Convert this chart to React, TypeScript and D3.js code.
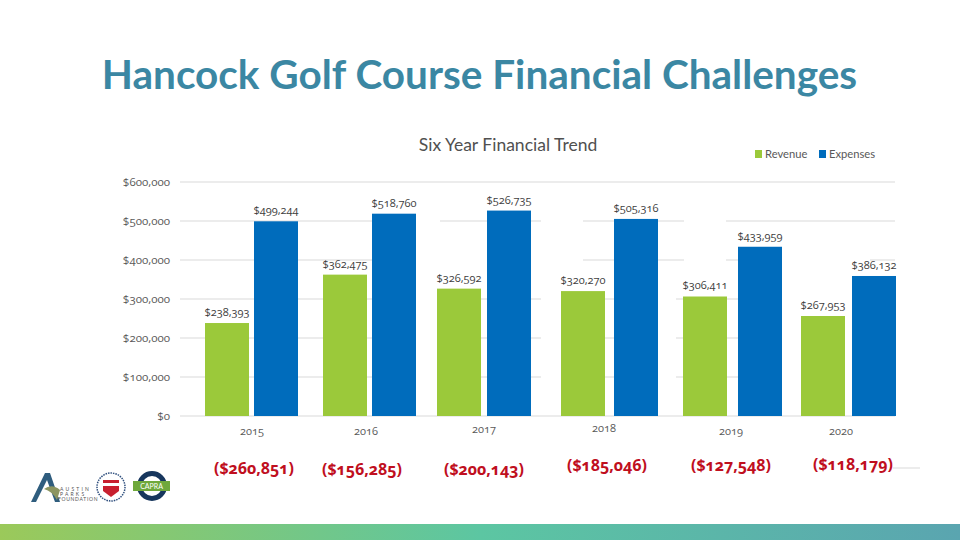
/**
 * Hancock Golf Course slide: revenue vs expenses, six years, net below each group.
 */
import { useEffect, useRef } from "react";
import * as d3 from "d3";

const years = ["2015", "2016", "2017", "2018", "2019", "2020"];
const revenue = [238393, 362475, 326592, 320270, 306411, 267953];
const expenses = [499244, 518760, 526735, 505316, 433959, 386132];
const net = [-260851, -156285, -200143, -185046, -127548, -118179];
const revenueDrawn = [238393, 362475, 326592, 320270, 306411, 256400];
const expensesDrawn = [499244, 518760, 526735, 505316, 433959, 359000];
const yTicks = [0, 100000, 200000, 300000, 400000, 500000, 600000];

const GREEN = "#9BC93A";
const BLUE = "#006CBC";
const FONT = "Lato, 'Open Sans', sans-serif";
const NUM_FONT = "'Open Sans', Lato, sans-serif";
const WIDTH = 960;
const HEIGHT = 540;

export default function App() {
  const svgRef = useRef<SVGSVGElement>(null);

  useEffect(() => {
    if (!svgRef.current) return;
    const svg = d3.select(svgRef.current);
    svg.selectAll("*").remove();

    const y = d3.scaleLinear().domain([0, 600000]).range([416, 182]);
    // groups were nudged by hand on the slide, so the bands are not evenly spaced
    const xRev = d3.scaleOrdinal<string, number>().domain(years).range([205, 323, 437, 561, 683, 801]);
    const xExp = d3.scaleOrdinal<string, number>().domain(years).range([254, 372, 487, 614, 738, 852]);
    const xYear = d3.scaleOrdinal<string, number>().domain(years).range([252, 366, 484, 604, 731, 841]);
    const yYear = d3.scaleOrdinal<string, number>().domain(years).range([435, 435, 433, 432, 435, 435]);
    const xNet = d3.scaleOrdinal<string, number>().domain(years).range([254, 362, 484, 607, 731, 853]);
    const yNet = d3.scaleOrdinal<string, number>().domain(years).range([474, 475, 475, 471, 471, 470]);
    const barW = 44;
    const money = d3.format("$,");
    const netFmt = d3.format("($,");

    const defs = svg.append("defs");
    const grad = defs.append("linearGradient").attr("id", "band");
    grad.append("stop").attr("offset", "0%").attr("stop-color", "#9BC95A");
    grad.append("stop").attr("offset", "50%").attr("stop-color", "#5CC6A2");
    grad.append("stop").attr("offset", "100%").attr("stop-color", "#5AA5B0");

    svg.append("rect").attr("width", WIDTH).attr("height", HEIGHT).attr("fill", "#fff");
    svg.append("rect").attr("y", 524).attr("width", WIDTH).attr("height", 16).attr("fill", "url(#band)");

    svg
      .append("text")
      .attr("x", 479.5)
      .attr("y", 89)
      .attr("text-anchor", "middle")
      .attr("font-family", FONT)
      .attr("font-weight", 700)
      .attr("font-size", 40.5)
      .attr("fill", "#3B87A3")
      .text("Hancock Golf Course Financial Challenges");

    svg
      .append("text")
      .attr("x", 508)
      .attr("y", 151)
      .attr("text-anchor", "middle")
      .attr("font-family", FONT)
      .attr("font-size", 17.5)
      .attr("fill", "#505050")
      .text("Six Year Financial Trend");

    // Legend
    const legend = svg.append("g").attr("font-family", FONT).attr("font-size", 11.2).attr("fill", "#595959");
    legend.append("rect").attr("x", 755).attr("y", 150).attr("width", 7).attr("height", 8).attr("fill", GREEN);
    legend.append("text").attr("x", 765).attr("y", 158).text("Revenue");
    legend.append("rect").attr("x", 819).attr("y", 150).attr("width", 7).attr("height", 8).attr("fill", BLUE);
    legend.append("text").attr("x", 829).attr("y", 158).text("Expenses");

    // Grid
    svg
      .append("g")
      .selectAll("line")
      .data(yTicks)
      .join("line")
      .attr("x1", 180)
      .attr("x2", 895)
      .attr("y1", (d) => y(d))
      .attr("y2", (d) => y(d))
      .attr("stroke", "#D9D9D9")
      .attr("stroke-width", 1);

    // White boxes on the slide hide parts of the gridlines
    const gridGaps = [
      [416, 440, 215, 414],
      [541, 583, 215, 414],
      [416, 583, 250, 270],
      [658, 676, 285, 414],
      [684, 726, 215, 290],
      [782, 870, 250, 414],
    ];
    svg
      .append("g")
      .selectAll("rect")
      .data(gridGaps)
      .join("rect")
      .attr("x", (d) => d[0])
      .attr("width", (d) => d[1] - d[0])
      .attr("y", (d) => d[2])
      .attr("height", (d) => d[3] - d[2])
      .attr("fill", "#fff");

    svg
      .append("line")
      .attr("x1", 893)
      .attr("x2", 920)
      .attr("y1", 468)
      .attr("y2", 468)
      .attr("stroke", "#D9D9D9");

    // Y axis
    const axis = svg
      .append("g")
      .attr("transform", "translate(170,0)")
      .call(d3.axisLeft(y).tickValues(yTicks).tickSize(0).tickPadding(0).tickFormat((d) => money(d as number)));
    axis.select(".domain").remove();
    axis
      .selectAll("text")
      .attr("font-family", NUM_FONT)
      .attr("font-size", 11.5)
      .attr("fill", "#595959")
      .style("font-feature-settings", "'onum'");

    // Bars
    const bars = (vals: number[], x: (k: string) => number, color: string) =>
      svg
        .append("g")
        .selectAll("rect")
        .data(vals)
        .join("rect")
        .attr("x", (_, i) => x(years[i]))
        .attr("y", (d) => y(d))
        .attr("width", barW)
        .attr("height", (d) => y(0) - y(d))
        .attr("fill", color);
    bars(revenueDrawn, xRev, GREEN);
    bars(expensesDrawn, xExp, BLUE);

    // Value labels
    const labels = (vals: number[], drawn: number[], x: (k: string) => number) =>
      svg
        .append("g")
        .selectAll("text")
        .data(vals)
        .join("text")
        .attr("x", (_, i) => x(years[i]) + barW / 2)
        .attr("y", (_, i) => y(drawn[i]) - 7)
        .attr("text-anchor", "middle")
        .attr("font-family", NUM_FONT)
        .attr("font-size", 11)
        .attr("fill", "#404040")
        .style("font-feature-settings", "'onum'")
        .text((d) => money(d));
    labels(revenue, revenueDrawn, xRev);
    labels(expenses, expensesDrawn, xExp);

    // Year labels
    svg
      .append("g")
      .selectAll("text")
      .data(years)
      .join("text")
      .attr("x", (d) => xYear(d))
      .attr("y", (d) => yYear(d))
      .attr("text-anchor", "middle")
      .attr("font-family", NUM_FONT)
      .attr("font-size", 11)
      .attr("fill", "#595959")
      .style("font-feature-settings", "'onum'")
      .text((d) => d);

    // Net result under each year
    svg
      .append("g")
      .selectAll("text")
      .data(net)
      .join("text")
      .attr("x", (_, i) => xNet(years[i]))
      .attr("y", (_, i) => yNet(years[i]))
      .attr("text-anchor", "middle")
      .attr("font-family", NUM_FONT)
      .attr("font-weight", 700)
      .attr("font-size", 16)
      .attr("fill", "#C00F1E")
      .style("font-feature-settings", "'onum'")
      .text((d) => netFmt(d));

    // Logos, bottom left
    const logos = svg.append("g");
    logos.append("path").attr("d", "M31,502 L45,473 L50,473 L60,502 L55,502 L47,480 L36,502 Z").attr("fill", "#2F5D7E");
    logos.append("path").attr("d", "M44,489 Q52,483 60,490 L57,500 Q52,491 44,489 Z").attr("fill", "#8C9560");
    logos
      .append("g")
      .attr("font-family", FONT)
      .attr("font-size", 5)
      .attr("fill", "#555")
      .call((g) => {
        g.append("text").attr("x", 60).attr("y", 491).attr("letter-spacing", 2.2).text("AUSTIN");
        g.append("text").attr("x", 60).attr("y", 496).attr("letter-spacing", 2.2).text("PARKS");
        g.append("text").attr("x", 58).attr("y", 501).attr("letter-spacing", 0.7).text("FOUNDATION");
      });
    logos.append("circle").attr("cx", 111).attr("cy", 487).attr("r", 14).attr("fill", "#fff").attr("stroke", "#2F4F7E").attr("stroke-width", 1.5).attr("stroke-dasharray", "1.5 1");
    logos.append("path").attr("d", "M103,480 L119,480 L119,491 L111,497 L103,491 Z").attr("fill", "#C8202F");
    logos.append("rect").attr("x", 103).attr("y", 483).attr("width", 16).attr("height", 3).attr("fill", "#fff");
    logos.append("circle").attr("cx", 152).attr("cy", 486).attr("r", 12.5).attr("fill", "#fff").attr("stroke", "#17365D").attr("stroke-width", 5);
    logos.append("rect").attr("x", 133).attr("y", 481).attr("width", 37).attr("height", 10).attr("fill", "#6FA83C");
    logos.append("text").attr("x", 151.5).attr("y", 488.5).attr("text-anchor", "middle").attr("font-family", FONT).attr("font-size", 7).attr("fill", "#fff").text("CAPRA");
  }, []);

  return (
    <svg
      ref={svgRef}
      width={WIDTH}
      height={HEIGHT}
      style={{ position: "absolute", left: 0, top: 0 }}
    />
  );
}
